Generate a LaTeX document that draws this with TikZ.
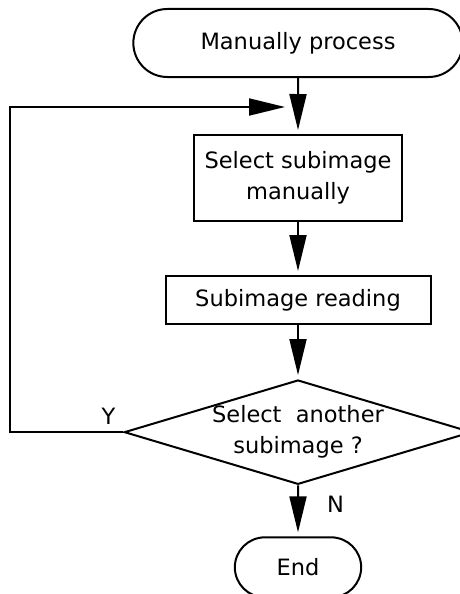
\documentclass[tikz,border=0pt]{standalone}
\usepackage{fontspec}
\setmainfont{DejaVu Sans}
\usetikzlibrary{shapes.geometric,shapes.misc,arrows.meta,positioning}

\begin{document}
\begin{tikzpicture}
            [x=1pt, y=-1pt, node distance=55pt, line width=2pt, font=\fontsize{22.5}{31}\selectfont,
             terminal/.style={draw, rounded rectangle, minimum height=68pt},
             process/.style={draw, rectangle, align=center},
             decision/.style={draw, diamond, aspect=3.33, align=center, inner sep=0pt, minimum width=346pt, minimum height=104pt},
             flow/.style={-{Triangle[length=36pt, width=17pt]}, shorten >=4pt}]
            \useasboundingbox (0,0) rectangle (460,594);
            \node[terminal, minimum width=336pt] (start) at (298,43) {Manually process};
            \node[process, minimum width=208pt, minimum height=86pt, below=56pt of start] (select) {Select subimage\\manually};
            \node[process, minimum width=265pt, minimum height=48pt, below=53pt of select] (reading) {Subimage reading};
            \node[decision, below=54pt of reading] (another) {Select~~another\\subimage ?};
            \node[terminal, minimum width=133pt, minimum height=60pt, below=51pt of another] (end) {End};

            \node[inner sep=0pt, above left=7pt and 7pt of another.west] (yes) {Y};
            \node[inner sep=0pt, below right=10pt and 28pt of another.south] (no) {N};

            \coordinate (corner) at (10,107);
            \coordinate (join) at (285,107);

            \draw[flow] (start) -- (select);
            \draw[flow] (select) -- (reading);
            \draw[flow] (reading) -- (another);
            \draw[flow] (another) -- (end);
            \draw[flow, shorten >=0pt] (another.west) -| (corner) -- (join);
        \end{tikzpicture}
\end{document}
